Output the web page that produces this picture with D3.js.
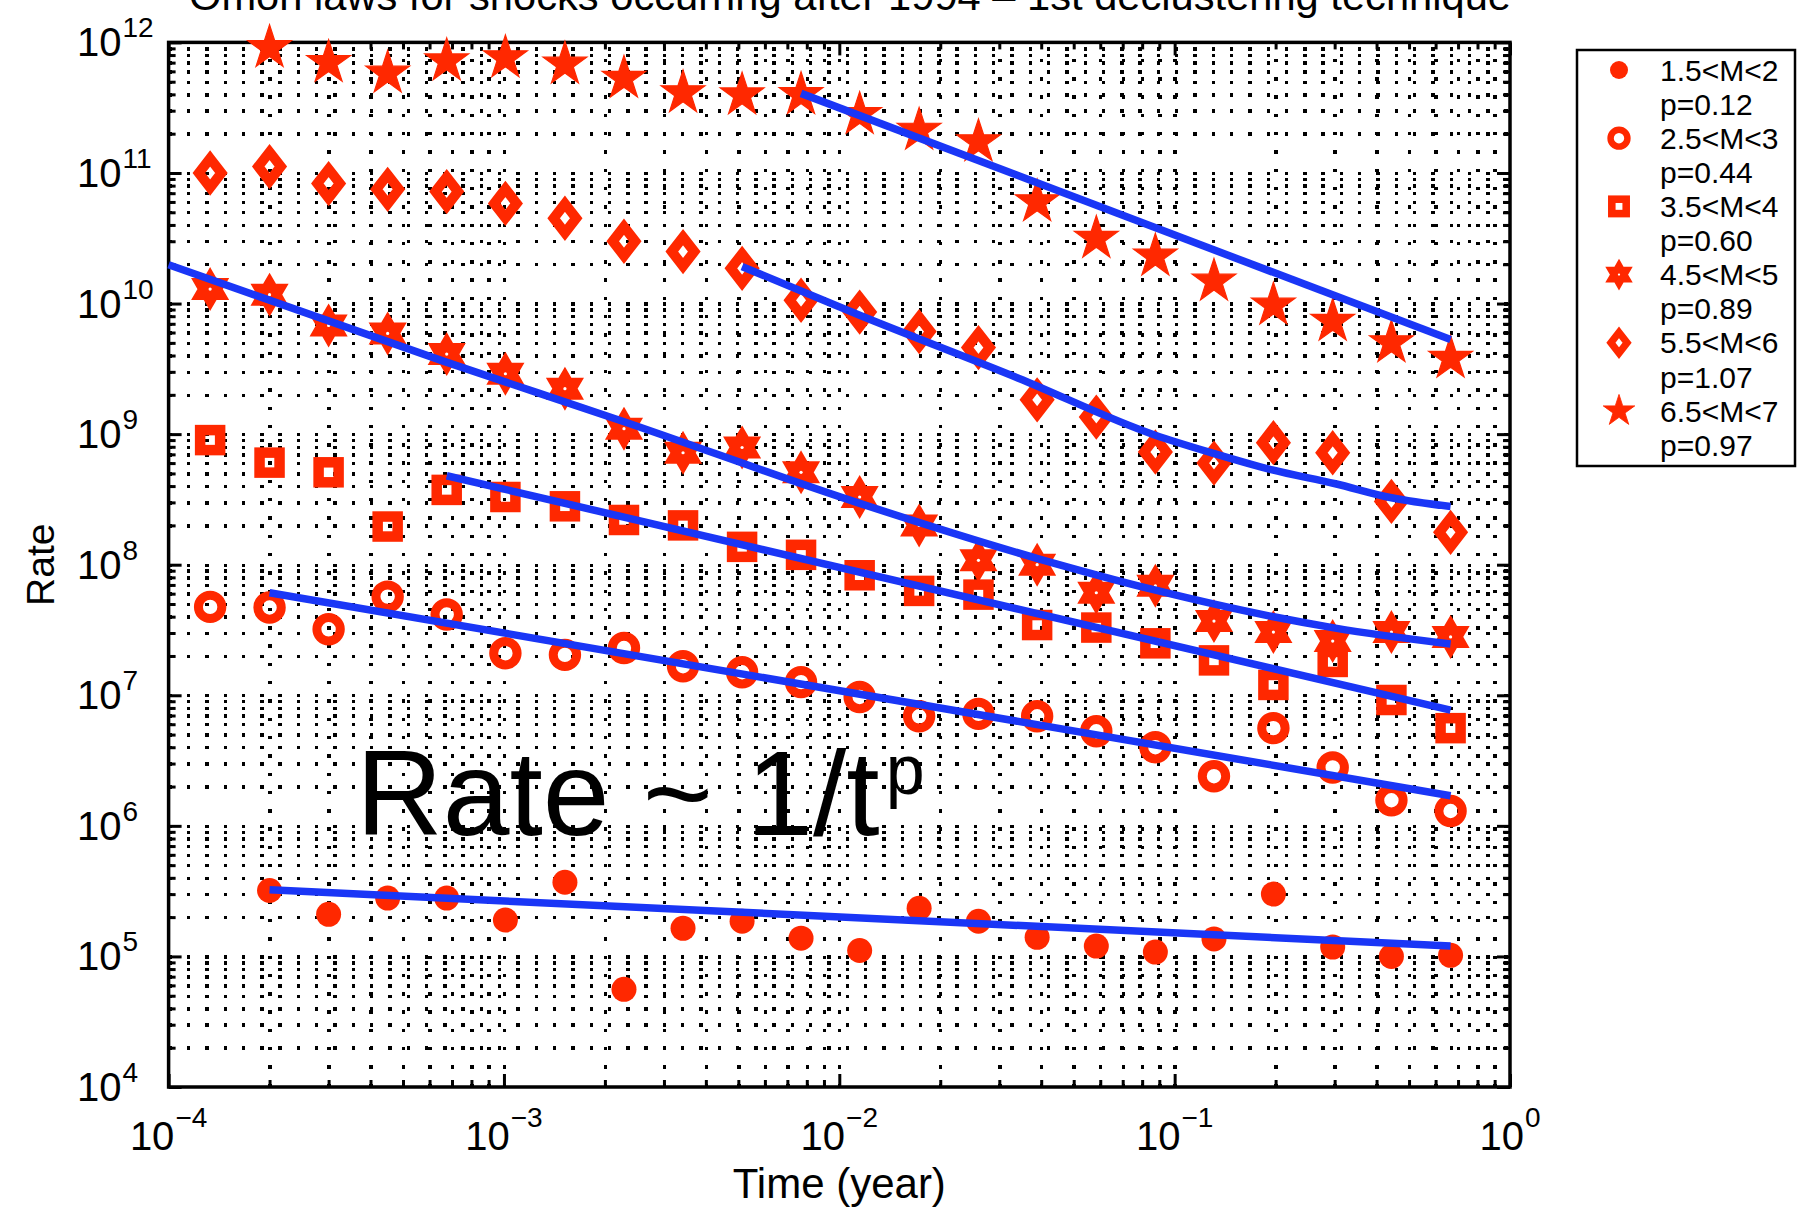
<!DOCTYPE html>
<html>
<head>
<meta charset="utf-8">
<script src="https://cdn.jsdelivr.net/npm/d3@7"></script>
<style>
  html, body { margin: 0; padding: 0; background: #fff; }
  svg { display: block; }
  text { font-family: "Liberation Sans", Arial, Helvetica, sans-serif; fill: #000; }
</style>
</head>
<body>
<svg id="chart" width="1798" height="1216"></svg>
<script>
// Elapsed time after the mainshock (years) at which each rate was sampled
const times = [1.33e-4, 2.0e-4, 3.0e-4, 4.5e-4, 6.75e-4, 1.01e-3, 1.52e-3, 2.28e-3,
               3.42e-3, 5.13e-3, 7.69e-3, 1.15e-2, 1.73e-2, 2.6e-2, 3.89e-2, 5.84e-2,
               8.76e-2, 0.131, 0.197, 0.296, 0.443, 0.665];

// Legend entries: magnitude bins and fitted Omori exponents
const magnitudeBins = ["1.5<M<2", "2.5<M<3", "3.5<M<4", "4.5<M<5", "5.5<M<6", "6.5<M<7"];
const pValues = ["0.12", "0.44", "0.60", "0.89", "1.07", "0.97"];

// Observed aftershock rates per magnitude bin (null = no sample)
const rateM15 = [null, 3.2e5, 2.1e5, 2.8e5, 2.8e5, 1.9e5, 3.7e5, 5.6e4, 1.64e5, 1.86e5, 1.38e5,
                 1.11e5, 2.34e5, 1.86e5, 1.4e5, 1.2e5, 1.08e5, 1.36e5, 3.0e5, 1.18e5, 1.0e5, 1.02e5];
const rateM25 = [4.75e7, 4.7e7, 3.2e7, 5.7e7, 4.15e7, 2.1e7, 2.04e7, 2.3e7, 1.67e7, 1.5e7, 1.26e7,
                 9.7e6, 6.9e6, 7.2e6, 6.9e6, 5.3e6, 4.0e6, 2.4e6, 5.6e6, 2.8e6, 1.57e6, 1.3e6];
const rateM35 = [9.0e8, 6.05e8, 5.1e8, 1.96e8, 3.74e8, 3.3e8, 2.8e8, 2.2e8, 2.0e8, 1.37e8, 1.19e8,
                 8.3e7, 6.3e7, 5.9e7, 3.45e7, 3.3e7, 2.5e7, 1.85e7, 1.2e7, 1.8e7, 9.2e6, 5.6e6];
const rateM45 = [1.29e10, 1.17e10, 6.8e9, 5.9e9, 4.1e9, 2.9e9, 2.23e9, 1.1e9, 7.2e8, 7.9e8, 5.1e8,
                 3.3e8, 2.0e8, 1.08e8, 1.0e8, 6.1e7, 6.9e7, 3.7e7, 3.05e7, 2.6e7, 3.05e7, 2.8e7];
const rateM55 = [1.0e11, 1.12e11, 8.3e10, 7.5e10, 7.2e10, 5.85e10, 4.5e10, 3.0e10, 2.5e10, 1.86e10, 1.06e10,
                 8.6e9, 6.1e9, 4.6e9, 1.83e9, 1.35e9, 7.3e8, 6.0e8, 8.6e8, 7.2e8, 3.05e8, 1.77e8];
const rateM65 = [null, 9.1e11, 7.0e11, 5.8e11, 7.2e11, 7.6e11, 6.8e11, 5.3e11, 4.1e11, 3.95e11, 3.97e11,
                 2.8e11, 2.12e11, 1.73e11, 6.0e10, 3.15e10, 2.3e10, 1.48e10, 9.7e9, 7.3e9, 5.0e9, 3.8e9];

// Fitted decay curves, as [time, rate] pairs
const fitM15 = [[2.0e-4, 3.24e5], [0.665, 1.2e5]];
const fitM25 = [[2.0e-4, 6.1e7], [0.665, 1.7e6]];
const fitM35 = [[6.75e-4, 4.8e8], [0.665, 7.7e6]];
const fitM45 = [[1.0e-4, 1.98e10], [6.66e-4, 3.59e9], [2.27e-3, 1.25e9], [1.15e-2, 2.95e8],
                [3.88e-2, 1.12e8], [8.71e-2, 6.41e7], [0.1955, 4.01e7], [0.3015, 3.27e7], [0.665, 2.47e7]];
const fitM55 = [[5.13e-3, 1.92e10], [1.15e-2, 8.13e9], [3.42e-2, 2.68e9], [8.71e-2, 9.86e8],
                [0.1303, 7.14e8], [0.1955, 5.32e8], [0.3015, 4.17e8], [0.439, 3.27e8], [0.665, 2.79e8]];
const fitM65 = [[7.69e-3, 4.07e11], [0.665, 5.3e9]];

// Decade tick labels (base 10 with superscript exponent)
const xTickValues = [1e-4, 1e-3, 1e-2, 1e-1, 1];
const xTickExponents = ["\u22124", "\u22123", "\u22122", "\u22121", "0"];
const yTickValues = [1e4, 1e5, 1e6, 1e7, 1e8, 1e9, 1e10, 1e11, 1e12];
const yTickExponents = ["4", "5", "6", "7", "8", "9", "10", "11", "12"];

const titleText = "Omori laws for shocks occurring after 1994 \u2013 1st declustering technique";
const xLabelText = "Time (year)";
const yLabelText = "Rate";

// ---- layout & style ----
const RED = "#ff2800";
const BLUE = "#1a36f6";
const box = { left: 168.6, right: 1510, top: 42.4, bottom: 1087 };
const plotW = box.right - box.left, plotH = box.bottom - box.top;

const svg = d3.select("#chart");

const x = d3.scaleLog().domain([1e-4, 1]).range([box.left, box.right]);
const y = d3.scaleLog().domain([1e4, 1e12]).range([box.bottom, box.top]);

const series = [
  { rates: rateM15, fit: fitM15, shape: "dot" },
  { rates: rateM25, fit: fitM25, shape: "ring" },
  { rates: rateM35, fit: fitM35, shape: "square" },
  { rates: rateM45, fit: fitM45, shape: "hexagram" },
  { rates: rateM55, fit: fitM55, shape: "diamond" },
  { rates: rateM65, fit: fitM65, shape: "pentagram" }
];

// ---- dotted grid on every major and minor tick ----
const xGridVals = x.ticks().filter(v => v > 1e-4 && v < 1);
const yGridVals = y.ticks().filter(v => v > 1e4 && v < 1e12);

const grid = svg.append("g").attr("class", "grid");
grid.append("g")
  .attr("transform", `translate(${box.left},0)`)
  .call(d3.axisLeft(y).tickValues(yGridVals).tickSize(-plotW).tickFormat(""))
  .call(g => g.select(".domain").remove());
grid.append("g")
  .attr("transform", `translate(0,${box.bottom})`)
  .call(d3.axisBottom(x).tickValues(xGridVals).tickSize(-plotH).tickFormat(""))
  .call(g => g.select(".domain").remove());
grid.selectAll("line")
  .attr("stroke", "#000")
  .attr("stroke-width", 3.4)
  .attr("stroke-dasharray", "3.4 14.9")
  .attr("shape-rendering", "crispEdges");

// ---- ticks on all four sides, pointing inward ----
const xMinor = x.ticks().filter(v => !xTickValues.includes(v));
const yMinor = y.ticks().filter(v => !yTickValues.includes(v));
const tickLayer = svg.append("g").attr("class", "ticks");
function addTicks(axis, transform) {
  tickLayer.append("g").attr("transform", transform).call(axis)
    .call(g => g.select(".domain").remove())
    .call(g => g.selectAll("line").attr("stroke", "#000").attr("stroke-width", 3));
}
addTicks(d3.axisBottom(x).tickValues(xTickValues).tickSize(-13).tickFormat(""), `translate(0,${box.bottom})`);
addTicks(d3.axisBottom(x).tickValues(xMinor).tickSize(-7).tickFormat(""), `translate(0,${box.bottom})`);
addTicks(d3.axisTop(x).tickValues(xTickValues).tickSize(-13).tickFormat(""), `translate(0,${box.top})`);
addTicks(d3.axisTop(x).tickValues(xMinor).tickSize(-7).tickFormat(""), `translate(0,${box.top})`);
addTicks(d3.axisLeft(y).tickValues(yTickValues).tickSize(-13).tickFormat(""), `translate(${box.left},0)`);
addTicks(d3.axisLeft(y).tickValues(yMinor).tickSize(-7).tickFormat(""), `translate(${box.left},0)`);
addTicks(d3.axisRight(y).tickValues(yTickValues).tickSize(-13).tickFormat(""), `translate(${box.right},0)`);
addTicks(d3.axisRight(y).tickValues(yMinor).tickSize(-7).tickFormat(""), `translate(${box.right},0)`);

// axes box
svg.append("rect")
  .attr("x", box.left).attr("y", box.top)
  .attr("width", plotW).attr("height", plotH)
  .attr("fill", "none").attr("stroke", "#000").attr("stroke-width", 3.5);

// ---- tick labels ----
const xLab = svg.append("g").attr("class", "x-labels");
xTickValues.forEach((v, i) => {
  const t = xLab.append("text")
    .attr("x", x(v)).attr("y", 1150)
    .attr("text-anchor", "middle")
    .attr("font-size", 40);
  t.append("tspan").text("10");
  t.append("tspan").attr("dy", -23).attr("dx", 1).attr("font-size", 28).text(xTickExponents[i]);
});

const yLab = svg.append("g").attr("class", "y-labels");
yTickValues.forEach((v, i) => {
  const t = yLab.append("text")
    .attr("x", 77).attr("y", y(v) + 14)
    .attr("font-size", 40);
  t.append("tspan").text("10");
  t.append("tspan").attr("dy", -19).attr("dx", 1).attr("font-size", 28).text(yTickExponents[i]);
});

// axis titles and chart title
svg.append("text")
  .attr("x", (box.left + box.right) / 2).attr("y", 1198)
  .attr("text-anchor", "middle").attr("font-size", 42)
  .text(xLabelText);
svg.append("text")
  .attr("transform", `translate(54,${(box.top + box.bottom) / 2}) rotate(-90)`)
  .attr("text-anchor", "middle").attr("font-size", 39)
  .text(yLabelText);
svg.append("text")
  .attr("x", 189).attr("y", 9.5)
  .attr("font-size", 40)
  .attr("textLength", 1322).attr("lengthAdjust", "spacingAndGlyphs")
  .text(titleText);

// ---- marker glyphs ----
function starPoints(n, R, r) {
  const pts = [];
  for (let k = 0; k < 2 * n; k++) {
    const a = -Math.PI / 2 + k * Math.PI / n;
    const rad = k % 2 === 0 ? R : r;
    pts.push([rad * Math.cos(a), rad * Math.sin(a)]);
  }
  return "M" + pts.map(p => p[0].toFixed(2) + "," + p[1].toFixed(2)).join("L") + "Z";
}

function addMarker(g, shape, s) {
  switch (shape) {
    case "dot":
      g.append("circle").attr("r", 12.5 * s).attr("fill", RED);
      break;
    case "ring":
      g.append("circle").attr("r", 11.7 * s).attr("fill", "none")
        .attr("stroke", RED).attr("stroke-width", 9 * s);
      break;
    case "square":
      g.append("rect").attr("x", -10 * s).attr("y", -10 * s)
        .attr("width", 20 * s).attr("height", 20 * s)
        .attr("fill", "none").attr("stroke", RED).attr("stroke-width", 10.5 * s)
        .attr("stroke-linejoin", "miter");
      break;
    case "hexagram":
      g.append("path").attr("d", starPoints(6, 19.5 * s, 19.5 * s / Math.sqrt(3)))
        .attr("fill", RED).attr("stroke", RED).attr("stroke-width", 2.5 * s)
        .attr("stroke-linejoin", "miter");
      g.append("circle").attr("r", 1.6 * s).attr("fill", "#fff");
      break;
    case "diamond":
      g.append("path")
        .attr("d", `M0,${-14.5 * s}L${11.25 * s},0L0,${14.5 * s}L${-11.25 * s},0Z`)
        .attr("fill", "none").attr("stroke", RED).attr("stroke-width", 10 * s)
        .attr("stroke-linejoin", "miter").attr("stroke-miterlimit", 10);
      break;
    case "pentagram":
      g.append("path").attr("d", starPoints(5, 23 * s, 23 * s * 0.382))
        .attr("fill", RED).attr("stroke", RED).attr("stroke-width", 1.2 * s);
      break;
  }
}

// ---- data markers ----
const markLayer = svg.append("g").attr("class", "marks");
series.forEach(sr => {
  const pts = times.map((t, i) => ({ t, r: sr.rates[i] })).filter(d => d.r != null);
  markLayer.append("g").selectAll("g")
    .data(pts).join("g")
    .attr("transform", d => `translate(${x(d.t)},${y(d.r)})`)
    .each(function () { addMarker(d3.select(this), sr.shape, 1); });
});

// ---- fitted curves ----
const line = d3.line()
  .x(d => x(d[0])).y(d => y(d[1]))
  .curve(d3.curveMonotoneX);
const fitLayer = svg.append("g").attr("class", "fits");
series.forEach(sr => {
  fitLayer.append("path")
    .attr("d", line(sr.fit))
    .attr("fill", "none").attr("stroke", BLUE)
    .attr("stroke-width", 7.5).attr("stroke-linecap", "butt");
});

// ---- annotation ----
const ann = svg.append("text").attr("x", 356).attr("y", 835).attr("font-size", 120);
ann.append("tspan").text("Rate ~ 1/t");
ann.append("tspan").attr("dx", 6).attr("dy", -41).attr("font-size", 70).text("p");

// ---- legend ----
const legend = svg.append("g").attr("class", "legend");
legend.append("rect")
  .attr("x", 1577).attr("y", 50).attr("width", 218).attr("height", 416)
  .attr("fill", "#fff").attr("stroke", "#000").attr("stroke-width", 2.5);
series.forEach((sr, i) => {
  const cy = 70 + i * 68.2;
  const mg = legend.append("g").attr("transform", `translate(1619,${cy})`);
  addMarker(mg, sr.shape, 0.72);
  legend.append("text").attr("x", 1660).attr("y", cy + 10.6)
    .attr("font-size", 30).text(magnitudeBins[i]);
  legend.append("text").attr("x", 1660).attr("y", cy + 34.1 + 10.6)
    .attr("font-size", 30).text("p=" + pValues[i]);
});
</script>
</body>
</html>
